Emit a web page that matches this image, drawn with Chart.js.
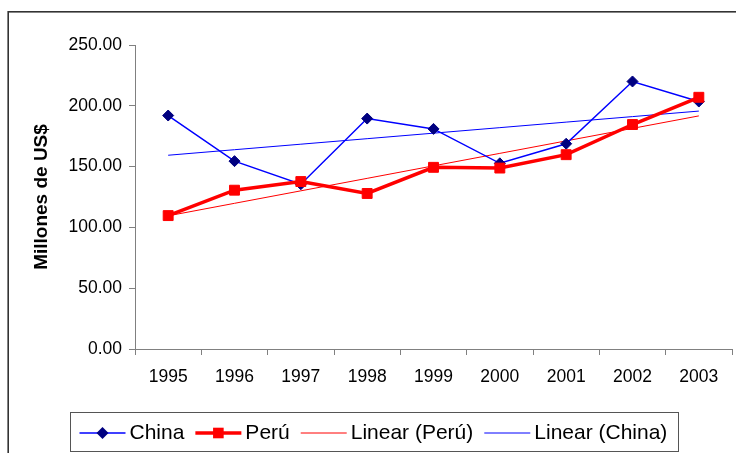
<!DOCTYPE html>
<html>
<head>
<meta charset="utf-8">
<script src="https://cdn.jsdelivr.net/npm/chart.js@4.4.1/dist/chart.umd.min.js"></script>
<style>
  html, body { margin: 0; padding: 0; background: #fff; }
  canvas { display: block; }
</style>
</head>
<body>
<canvas id="chart" width="736" height="453"></canvas>
<script>
// Years on the category axis
const years = ['1995', '1996', '1997', '1998', '1999', '2000', '2001', '2002', '2003'];
// Annual values, millions of US$
const chinaValues = [192.0, 154.5, 135.5, 189.5, 181.0, 152.7, 168.8, 220.0, 203.5];
const peruValues  = [109.7, 130.6, 137.7, 127.9, 149.4, 148.8, 159.8, 184.6, 207.0];
// Value-axis ticks
const yTicks = [0, 50, 100, 150, 200, 250];
const yTitle = 'Millones de US$';
// Legend entries, in display order
const legendOrder = ['China', 'Perú', 'Linear (Perú)', 'Linear (China)'];

const FONT = "'Liberation Sans', Arial, Helvetica, sans-serif";

// Least-squares trend line evaluated at each category position
function linearTrend(values) {
  const n = values.length;
  const mx = (n - 1) / 2;
  const my = values.reduce((a, b) => a + b, 0) / n;
  let sxy = 0, sxx = 0;
  values.forEach((v, i) => { sxy += (i - mx) * (v - my); sxx += (i - mx) * (i - mx); });
  const slope = sxy / sxx;
  return values.map((_, i) => my + slope * (i - mx));
}

// Outer frame around the whole chart
const framePlugin = {
  id: 'frame',
  beforeDraw(chart) {
    const ctx = chart.ctx;
    ctx.save();
    ctx.fillStyle = '#fff';
    ctx.fillRect(0, 0, chart.width, chart.height);
    ctx.strokeStyle = '#333';
    ctx.lineWidth = 1.6;
    ctx.strokeRect(8.2, 11.8, chart.width + 20, chart.height + 20);
    ctx.restore();
  }
};

function drawMarker(ctx, style, x, y, r, color) {
  ctx.fillStyle = color;
  ctx.beginPath();
  if (style === 'rectRot') {
    ctx.moveTo(x - r, y); ctx.lineTo(x, y - r); ctx.lineTo(x + r, y); ctx.lineTo(x, y + r);
  } else if (style === 'rect') {
    const h = r * Math.SQRT1_2;
    ctx.rect(x - h, y - h, 2 * h, 2 * h);
  }
  ctx.closePath();
  ctx.fill();
}

// Boxed legend below the plot, with line + marker swatches
const boxLegendPlugin = {
  id: 'boxLegend',
  afterDraw(chart) {
    const ctx = chart.ctx;
    ctx.save();
    ctx.font = '21px ' + FONT;
    const lineLen = 46, gapText = 4, gapItem = 11, padL = 9, padR = 11;
    const left = 70.5, top = 412.5, height = 39;
    const cy = top + height / 2 + 1;
    const items = legendOrder.map(l => chart.data.datasets.find(d => d.label === l));
    const widths = items.map(d => ctx.measureText(d.label).width);
    let total = padL + padR;
    widths.forEach((w, i) => { total += lineLen + gapText + w + (i < widths.length - 1 ? gapItem : 0); });

    ctx.strokeStyle = '#555';
    ctx.lineWidth = 1;
    ctx.strokeRect(left, top, Math.round(total), height);

    let x = left + padL;
    items.forEach((d, i) => {
      ctx.strokeStyle = d.borderColor;
      ctx.lineWidth = d.borderWidth;
      ctx.beginPath();
      ctx.moveTo(x, cy);
      ctx.lineTo(x + lineLen, cy);
      ctx.stroke();
      if (d.pointRadius > 0) {
        drawMarker(ctx, d.pointStyle, x + lineLen / 2, cy, d.pointRadius + 0.5, d.pointBackgroundColor);
      }
      x += lineLen + gapText;
      ctx.fillStyle = '#000';
      ctx.textBaseline = 'middle';
      ctx.textAlign = 'left';
      ctx.fillText(d.label, x, cy);
      x += widths[i] + gapItem;
    });
    ctx.restore();
  }
};

const axisColor = '#808080';

new Chart(document.getElementById('chart'), {
  type: 'line',
  data: {
    labels: years,
    datasets: [
      {
        label: 'Perú',
        data: peruValues,
        borderColor: '#ff0000',
        backgroundColor: '#ff0000',
        borderWidth: 3.5,
        pointStyle: 'rect',
        pointRadius: 7,
        pointBackgroundColor: '#ff0000',
        pointBorderColor: '#ff0000',
        pointBorderWidth: 1,
        tension: 0
      },
      {
        label: 'China',
        data: chinaValues,
        borderColor: '#0000ff',
        backgroundColor: '#000080',
        borderWidth: 1.5,
        pointStyle: 'rectRot',
        pointRadius: 5.5,
        pointBackgroundColor: '#000080',
        pointBorderColor: '#000080',
        pointBorderWidth: 1,
        tension: 0
      },
      {
        label: 'Linear (Perú)',
        data: linearTrend(peruValues),
        borderColor: '#ff0000',
        borderWidth: 1,
        pointRadius: 0,
        tension: 0
      },
      {
        label: 'Linear (China)',
        data: linearTrend(chinaValues),
        borderColor: '#0000ff',
        borderWidth: 1,
        pointRadius: 0,
        tension: 0
      }
    ]
  },
  options: {
    responsive: false,
    animation: false,
    layout: { autoPadding: false, padding: { left: 8, top: 45, right: 4, bottom: 0 } },
    plugins: {
      legend: { display: false },
      tooltip: { enabled: false }
    },
    scales: {
      x: {
        type: 'category',
        offset: true,
        grid: { offset: true, drawOnChartArea: false, drawTicks: true, tickLength: 6, color: axisColor, lineWidth: 1 },
        border: { display: true, color: axisColor, width: 1 },
        ticks: { color: '#000', font: { family: FONT, size: 17.5 }, padding: 12, maxRotation: 0, autoSkip: false },
        afterFit(scale) {
          scale.height = 104;
          scale.paddingLeft = 0;
          scale.paddingRight = 0;
        }
      },
      y: {
        min: 0,
        max: 250,
        afterBuildTicks(scale) { scale.ticks = yTicks.map(v => ({ value: v })); },
        grid: { drawOnChartArea: false, drawTicks: true, tickLength: 6, color: axisColor, lineWidth: 1 },
        border: { display: true, color: axisColor, width: 1 },
        ticks: {
          color: '#000',
          font: { family: FONT, size: 17.5 },
          padding: 7,
          callback: v => Number(v).toFixed(2)
        },
        title: {
          display: true,
          text: yTitle,
          color: '#000',
          font: { family: FONT, size: 19, weight: 'bold' },
          padding: { top: 22.5, bottom: 0 }
        },
        afterFit(scale) { scale.width = 127; }
      }
    }
  },
  plugins: [framePlugin, boxLegendPlugin]
});
</script>
</body>
</html>
